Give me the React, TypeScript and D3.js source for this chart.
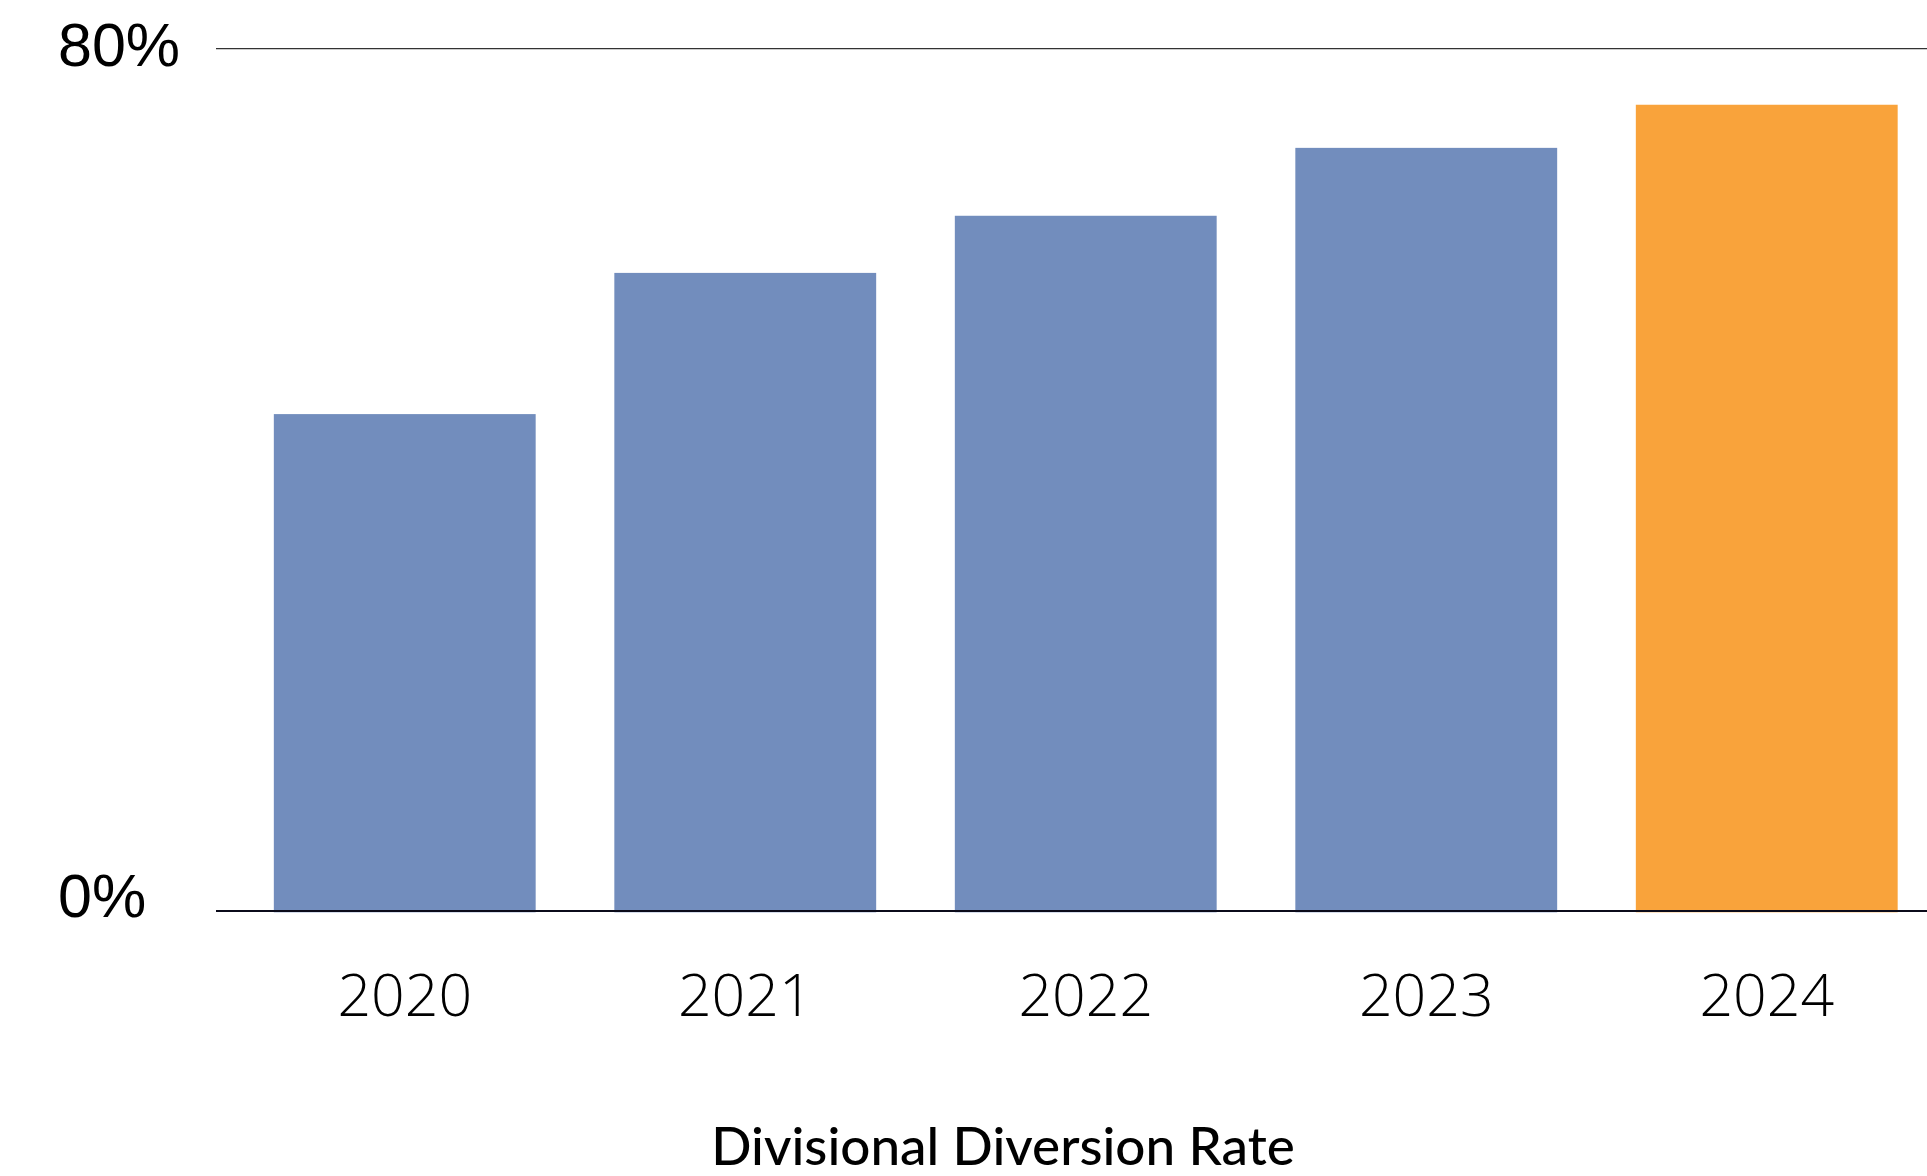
import React from "react";
import * as d3 from "d3";

const years: string[] = ["2020", "2021", "2022", "2023", "2024"];
const rates: number[] = [46.1, 59.2, 64.5, 70.8, 74.8];
const yTicks: number[] = [0, 80];
const barColors: string[] = ["#728dbd", "#728dbd", "#728dbd", "#728dbd", "#f9a33b"];
const title = "Divisional Diversion Rate";

const W = 1927;
const H = 1176;

export default function App() {
  const x = d3
    .scaleBand<string>()
    .domain(years)
    .range([234.5, 1937])
    .paddingInner(0.231)
    .paddingOuter(0.1155);
  const y = d3.scaleLinear().domain([0, 80]).range([911, 48.7]);

  return (
    <svg
      width={W}
      height={H}
      style={{ position: "absolute", left: 0, top: 0, background: "#fff" }}
    >
      {years.map((yr, i) => (
        <rect
          key={yr}
          x={x(yr)}
          y={y(rates[i])}
          width={x.bandwidth()}
          height={y(0) - y(rates[i]) + 1.3}
          fill={barColors[i]}
        />
      ))}
      {yTicks.map((t) => (
        <g key={t}>
          <line
            x1={216}
            x2={W}
            y1={y(t)}
            y2={y(t)}
            stroke={t === 0 ? "#0b0b1a" : "#333"}
            strokeWidth={t === 0 ? 2.2 : 1.3}
          />
          <text
            x={58}
            y={y(t) + (t === 0 ? 5.7 : 17)}
            fontFamily="'Liberation Sans', Arial, sans-serif"
            fontSize={61}
            fill="#000"
          >
            {`${t}%`}
          </text>
        </g>
      ))}
      {years.map((yr) => (
        <text
          key={"l" + yr}
          x={(x(yr) as number) + x.bandwidth() / 2}
          y={1016}
          textAnchor="middle"
          fontFamily="'Open Sans', sans-serif"
          fontWeight={300}
          fontSize={59}
          fill="#000"
        >
          {yr}
        </text>
      ))}
      <text
        x={1003}
        y={1165}
        textAnchor="middle"
        fontFamily="Lato, 'Noto Sans', sans-serif"
        fontWeight={500}
        fontSize={53}
        fill="#000"
      >
        {title}
      </text>
    </svg>
  );
}
